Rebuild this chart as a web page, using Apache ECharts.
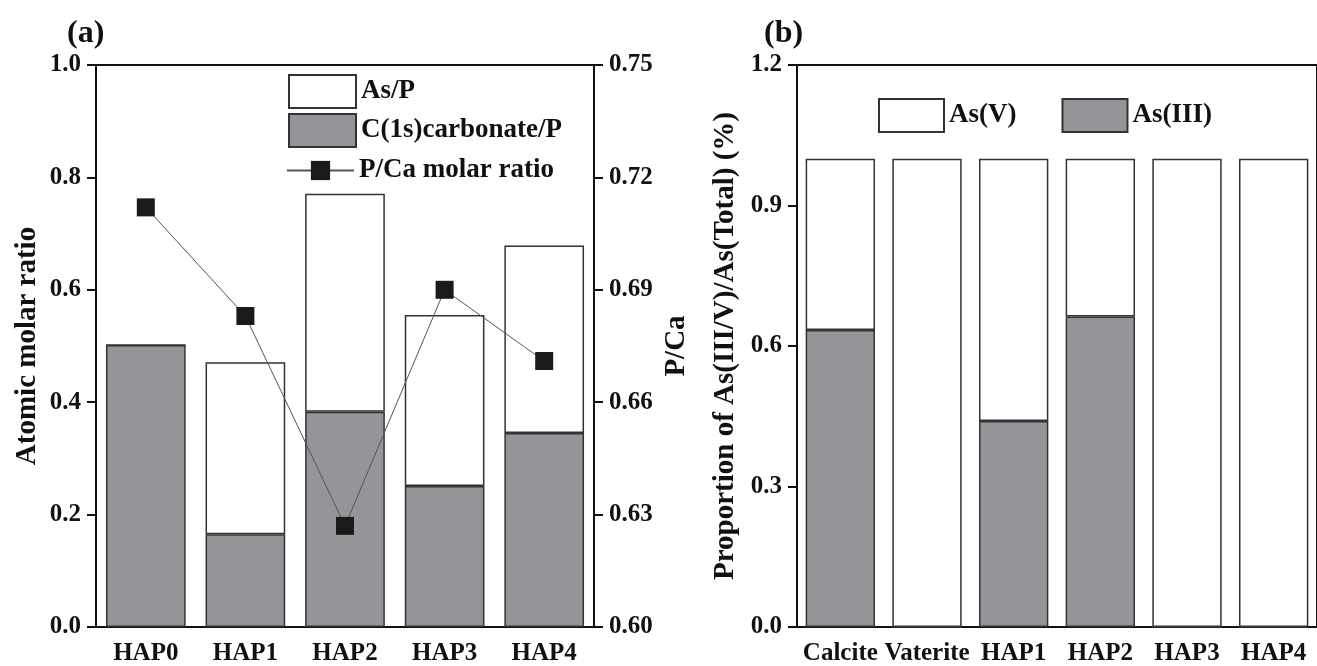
<!DOCTYPE html>
<html lang="en">
<head>
    <meta charset="utf-8">
    <title>HAP arsenic chart</title>
    <script type="text/javascript" src="https://cdn.jsdelivr.net/npm/echarts@6/dist/echarts.min.js"></script>
    <style>
        html, body { margin: 0; padding: 0; background: #fff; }
    </style>
</head>
<body>
<div id="main" style="width: 1317px;height:666px;"></div>
<script>
    // (a) atomic molar ratios
    var samplesA = ['HAP0', 'HAP1', 'HAP2', 'HAP3', 'HAP4'];
    var carbonateP = [0.502, 0.165, 0.383, 0.251, 0.345];
    var asP = [0, 0.306, 0.388, 0.304, 0.334];
    var pCa = [0.712, 0.683, 0.627, 0.690, 0.671];

    // (b) arsenic species proportion
    var samplesB = ['Calcite', 'Vaterite', 'HAP1', 'HAP2', 'HAP3', 'HAP4'];
    var asIII = [0.634, 0, 0.440, 0.663, 0, 0];
    var asV = [0.366, 1, 0.560, 0.337, 1, 1];

    var font = 'Liberation Serif';
    var gray = '#949599';
    var black = '#111';

    var chartDom = document.getElementById('main');
    var myChart = echarts.init(chartDom);
    var option;

    var labelStyle = {
        fontFamily: font,
        fontWeight: 'bold',
        fontSize: 25,
        color: black
    };
    var nameStyle = {
        fontFamily: font,
        fontWeight: 'bold',
        fontSize: 29,
        color: black
    };
    var legendText = {fontFamily: font, fontWeight: 'bold', fontSize: 27, color: black};
    var lineStyle = {color: black, width: 2};

    option = {
        animation: false,
        backgroundColor: '#fff',
        graphic: [
            {type: 'text', left: 67, top: 18, style: {text: '(a)', font: 'bold 32px ' + font, fill: black}},
            {type: 'text', left: 764, top: 18, style: {text: '(b)', font: 'bold 32px ' + font, fill: black}}
        ],
        legend: [
            {
                orient: 'vertical',
                left: 283,
                top: 69,
                icon: 'rect',
                itemWidth: 67,
                itemHeight: 33,
                itemGap: 4,
                data: ['As/P', 'C(1s)carbonate/P'],
                textStyle: legendText
            },
            {
                left: 281,
                top: 152,
                itemWidth: 67,
                itemHeight: 24,
                data: ['P/Ca molar ratio'],
                textStyle: legendText
            },
            {
                orient: 'horizontal',
                left: 873,
                top: 93,
                icon: 'rect',
                itemWidth: 65,
                itemHeight: 33,
                itemGap: 45,
                data: ['As(V)', 'As(III)'],
                textStyle: legendText
            }
        ],
        grid: [
            {left: 96, right: 723, top: 65, bottom: 39, show: true, borderColor: black, borderWidth: 2},
            {left: 797, right: -8, top: 65, bottom: 39, show: true, borderColor: black, borderWidth: 2}
        ],
        xAxis: [
            {
                gridIndex: 0,
                type: 'category',
                data: samplesA,
                axisLine: {lineStyle: lineStyle},
                axisTick: {alignWithLabel: true, length: 10, lineStyle: lineStyle},
                axisLabel: Object.assign({margin: 14, interval: 0}, labelStyle)
            },
            {
                gridIndex: 1,
                type: 'category',
                data: samplesB,
                axisLine: {lineStyle: lineStyle},
                axisTick: {alignWithLabel: true, length: 10, lineStyle: lineStyle},
                axisLabel: Object.assign({margin: 14, interval: 0}, labelStyle)
            }
        ],
        yAxis: [
            {
                gridIndex: 0,
                type: 'value',
                min: 0,
                max: 1,
                interval: 0.2,
                name: 'Atomic molar ratio',
                nameLocation: 'middle',
                nameGap: 54,
                nameTextStyle: nameStyle,
                splitLine: {show: false},
                axisLine: {show: true, lineStyle: lineStyle},
                axisTick: {show: true, length: 9, lineStyle: lineStyle},
                axisLabel: Object.assign({
                    margin: 15, formatter: function (v) {
                        return v.toFixed(1);
                    }
                }, labelStyle)
            },
            {
                gridIndex: 0,
                type: 'value',
                position: 'right',
                min: 0.6,
                max: 0.75,
                interval: 0.03,
                name: 'P/Ca',
                nameLocation: 'middle',
                nameGap: 68,
                nameRotate: 90,
                nameTextStyle: nameStyle,
                splitLine: {show: false},
                axisLine: {show: true, lineStyle: lineStyle},
                axisTick: {show: true, length: 9, lineStyle: lineStyle},
                axisLabel: Object.assign({
                    margin: 15, formatter: function (v) {
                        return v.toFixed(2);
                    }
                }, labelStyle)
            },
            {
                gridIndex: 1,
                type: 'value',
                min: 0,
                max: 1.2,
                interval: 0.3,
                name: 'Proportion of As(III/V)/As(Total) (%)',
                nameLocation: 'middle',
                nameGap: 57,
                nameTextStyle: nameStyle,
                splitLine: {show: false},
                axisLine: {show: true, lineStyle: lineStyle},
                axisTick: {show: true, length: 9, lineStyle: lineStyle},
                axisLabel: Object.assign({
                    margin: 15, formatter: function (v) {
                        return v.toFixed(1);
                    }
                }, labelStyle)
            }
        ],
        series: [
            {
                name: 'C(1s)carbonate/P',
                type: 'bar',
                xAxisIndex: 0,
                yAxisIndex: 0,
                stack: 'a',
                barCategoryGap: '20%',
                data: carbonateP,
                itemStyle: {color: gray, borderColor: '#333', borderWidth: 1.5}
            },
            {
                name: 'As/P',
                type: 'bar',
                xAxisIndex: 0,
                yAxisIndex: 0,
                stack: 'a',
                barCategoryGap: '20%',
                data: asP,
                itemStyle: {color: '#fff', borderColor: '#333', borderWidth: 1.5}
            },
            {
                name: 'P/Ca molar ratio',
                type: 'line',
                xAxisIndex: 0,
                yAxisIndex: 1,
                data: pCa,
                symbol: 'rect',
                symbolSize: 18,
                itemStyle: {color: '#1a1a1a'},
                lineStyle: {color: '#555', width: 1}
            },
            {
                name: 'As(III)',
                type: 'bar',
                xAxisIndex: 1,
                yAxisIndex: 2,
                stack: 'b',
                barCategoryGap: '20%',
                data: asIII,
                itemStyle: {color: gray, borderColor: '#333', borderWidth: 1.5}
            },
            {
                name: 'As(V)',
                type: 'bar',
                xAxisIndex: 1,
                yAxisIndex: 2,
                stack: 'b',
                barCategoryGap: '20%',
                data: asV,
                itemStyle: {color: '#fff', borderColor: '#333', borderWidth: 1.5}
            }
        ]
    };

    myChart.setOption(option);
</script>
</body>
</html>
